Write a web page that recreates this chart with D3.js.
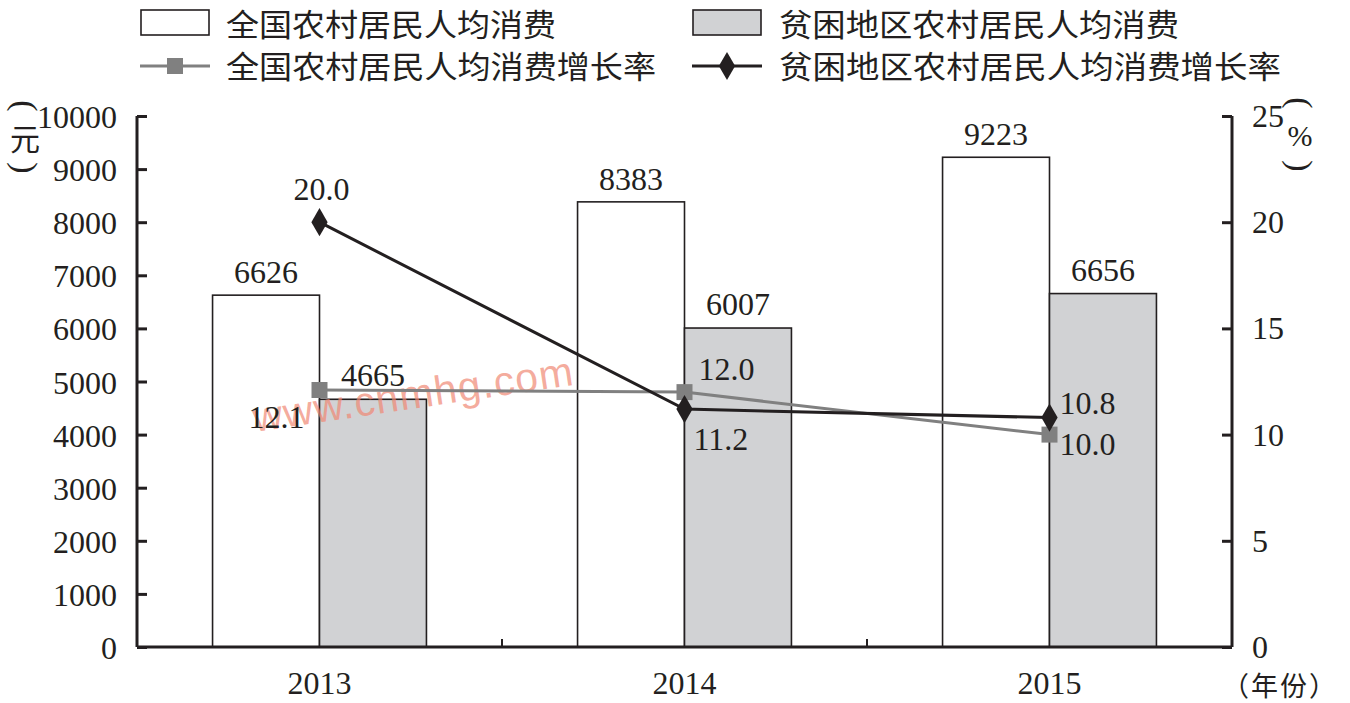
<!DOCTYPE html>
<html><head><meta charset="utf-8">
<script src="https://cdn.jsdelivr.net/npm/d3@7"></script>
<style>
body{margin:0;background:#fff;}
text{fill:#231f20;}
</style></head>
<body>
<svg id="chart" width="1350" height="703"></svg>
<script>
const years = ["2013", "2014", "2015"];
const nationalConsumption = [6626, 8383, 9223];
const poorConsumption = [4665, 6007, 6656];
const nationalGrowth = [12.1, 12.0, 10.0];
const poorGrowth = [20.0, 11.2, 10.8];
const leftTicks = [0,1000,2000,3000,4000,5000,6000,7000,8000,9000,10000];
const rightTicks = [0,5,10,15,20,25];
const seriesNames = ["全国农村居民人均消费","贫困地区农村居民人均消费","全国农村居民人均消费增长率","贫困地区农村居民人均消费增长率"];

const ink = "#231f20", barGray = "#d1d2d4", lineGray = "#808080";
const numFont = "'Liberation Serif','Times New Roman','DejaVu Serif',serif";
const cjkFont = "'Noto Sans CJK SC','Noto Sans',sans-serif";

const svg = d3.select("#chart");
const L = 137, R = 1232, T = 116, B = 647;

const x = d3.scaleBand().domain(years).range([L, R]);
const yL = d3.scaleLinear().domain([0, 10000]).range([B, T]);
const yR = d3.scaleLinear().domain([0, 25]).range([B, T]);
const barW = x.bandwidth() * 0.293;
const cx = d => x(d) + x.bandwidth() / 2;

// bars
const g = svg.append("g");
g.selectAll(".bn").data(years).join("rect")
  .attr("x", d => cx(d) - barW).attr("width", barW)
  .attr("y", (d,i) => yL(nationalConsumption[i]))
  .attr("height", (d,i) => B - yL(nationalConsumption[i]))
  .attr("fill", "#fff").attr("stroke", ink).attr("stroke-width", 1.6);
g.selectAll(".bp").data(years).join("rect")
  .attr("x", d => cx(d)).attr("width", barW)
  .attr("y", (d,i) => yL(poorConsumption[i]))
  .attr("height", (d,i) => B - yL(poorConsumption[i]))
  .attr("fill", barGray).attr("stroke", ink).attr("stroke-width", 1.6);

// bar labels
g.selectAll(".ln").data(years).join("text")
  .attr("x", d => cx(d) - barW/2).attr("y", (d,i) => yL(nationalConsumption[i]) - 12)
  .attr("text-anchor", "middle").attr("font-family", numFont).attr("font-size", 32)
  .text((d,i) => nationalConsumption[i]);
g.selectAll(".lp").data(years).join("text")
  .attr("x", d => cx(d) + barW/2).attr("y", (d,i) => yL(poorConsumption[i]) - 13)
  .attr("text-anchor", "middle").attr("font-family", numFont).attr("font-size", 32)
  .text((d,i) => poorConsumption[i]);

// watermark
svg.append("text").attr("transform", "translate(255,432) rotate(-8.4)")
  .attr("font-family", "'Liberation Sans',Arial,sans-serif").attr("font-size", 41)
  .attr("textLength", 323).attr("lengthAdjust", "spacing")
  .style("fill", "rgba(240,135,115,0.7)").text("www.cnmhg.com");

// axes
const axL = d3.axisLeft(yL).tickValues(leftTicks).tickSize(-10).tickPadding(20).tickFormat(d => d);
const axR = d3.axisRight(yR).tickValues(rightTicks).tickSize(-10).tickPadding(20);
const axB = d3.axisBottom(x).tickSize(0).tickPadding(24);

function styleAxis(sel){
  sel.attr("font-family", numFont);
  sel.select(".domain").attr("stroke", ink).attr("stroke-width", 3);
  sel.selectAll(".tick line").attr("stroke", ink).attr("stroke-width", 3);
  sel.selectAll("text").attr("font-family", numFont).attr("font-size", 32).style("fill", ink);
}
const gl = svg.append("g").attr("transform", `translate(${L},0)`).call(axL);
gl.select(".domain").attr("d", `M0,${T}V${B}`);
styleAxis(gl);
gl.selectAll("text").attr("dy", "0.36em");
const gr = svg.append("g").attr("transform", `translate(${R},0)`).call(axR);
gr.select(".domain").attr("d", `M0,${T}V${B}`);
styleAxis(gr);
gr.selectAll("text").attr("dy", "0.33em");
const gb = svg.append("g").attr("transform", `translate(0,${B})`).call(axB);
gb.select(".domain").attr("d", `M${L},0H${R}`);
styleAxis(gb);
gb.selectAll("text").attr("dy", "0.71em");
// category separators
svg.append("g").selectAll("line").data(years.slice(1)).join("line")
  .attr("x1", d => x(d)).attr("x2", d => x(d)).attr("y1", B).attr("y2", B - 8)
  .attr("stroke", ink).attr("stroke-width", 2);

// lines
const lineGen = d3.line().x(d => cx(d[0])).y(d => yR(d[1]));
svg.append("path").datum(years.map((d,i) => [d, nationalGrowth[i]]))
  .attr("d", lineGen).attr("fill", "none").attr("stroke", lineGray).attr("stroke-width", 3);
svg.append("path").datum(years.map((d,i) => [d, poorGrowth[i]]))
  .attr("d", lineGen).attr("fill", "none").attr("stroke", ink).attr("stroke-width", 3);

const sq = d3.symbol().type(d3.symbolSquare).size(256);
const dm = d3.symbol().type(d3.symbolDiamond).size(230);
svg.append("g").selectAll("path").data(years).join("path")
  .attr("transform", (d,i) => `translate(${cx(d)},${yR(nationalGrowth[i])})`)
  .attr("d", sq).attr("fill", lineGray);
svg.append("g").selectAll("path").data(years).join("path")
  .attr("transform", (d,i) => `translate(${cx(d)},${yR(poorGrowth[i])})`)
  .attr("d", dm).attr("fill", ink);

// line labels
const natOff = [[-15, 38, "end"], [14, -12, "start"], [10, 20, "start"]];
const poorOff = [[2, -22, "middle"], [9, 41, "start"], [10, -4, "start"]];
svg.append("g").selectAll("text").data(years).join("text")
  .attr("x", (d,i) => cx(d) + natOff[i][0]).attr("y", (d,i) => yR(nationalGrowth[i]) + natOff[i][1])
  .attr("text-anchor", (d,i) => natOff[i][2]).attr("font-family", numFont).attr("font-size", 32)
  .text((d,i) => nationalGrowth[i].toFixed(1));
svg.append("g").selectAll("text").data(years).join("text")
  .attr("x", (d,i) => cx(d) + poorOff[i][0]).attr("y", (d,i) => yR(poorGrowth[i]) + poorOff[i][1])
  .attr("text-anchor", (d,i) => poorOff[i][2]).attr("font-family", numFont).attr("font-size", 32)
  .text((d,i) => poorGrowth[i].toFixed(1));

// legend
const lg = svg.append("g");
lg.append("rect").attr("x", 141).attr("y", 10).attr("width", 68).attr("height", 25)
  .attr("fill", "#fff").attr("stroke", ink).attr("stroke-width", 1.6);
lg.append("rect").attr("x", 693).attr("y", 10).attr("width", 68).attr("height", 25)
  .attr("fill", barGray).attr("stroke", ink).attr("stroke-width", 1.6);
lg.append("line").attr("x1", 140).attr("x2", 210).attr("y1", 66).attr("y2", 66)
  .attr("stroke", lineGray).attr("stroke-width", 3);
lg.append("path").attr("transform", "translate(175,66)").attr("d", sq).attr("fill", lineGray);
lg.append("line").attr("x1", 692).attr("x2", 762).attr("y1", 66).attr("y2", 66)
  .attr("stroke", ink).attr("stroke-width", 3);
lg.append("path").attr("transform", "translate(727,66)").attr("d", dm).attr("fill", ink);
const legPos = [[226, 36, 330], [779, 36, 400], [226, 78, 430], [779, 78, 502]];
lg.selectAll("text").data(seriesNames).join("text")
  .attr("x", (d,i) => legPos[i][0]).attr("y", (d,i) => legPos[i][1])
  .attr("textLength", (d,i) => legPos[i][2]).attr("lengthAdjust", "spacingAndGlyphs")
  .attr("font-family", cjkFont).attr("font-size", 31).text(d => d);

// unit labels (stacked vertically, parentheses turned sideways)
function vUnit(xx, yTop, yMid, yBot, label, font) {
  const paren = (ch, yy) => svg.append("text")
    .attr("transform", `translate(${xx},${yy}) rotate(90)`)
    .attr("text-anchor", "middle").attr("dominant-baseline", "central")
    .attr("font-family", numFont).attr("font-size", 34).text(ch);
  paren("(", yTop);
  svg.append("text").attr("x", xx).attr("y", yMid)
    .attr("text-anchor", "middle").attr("dominant-baseline", "central")
    .attr("font-family", font).attr("font-size", 30).text(label);
  paren(")", yBot);
}
vUnit(25, 106, 137, 168, "元", cjkFont);
vUnit(1300, 103, 135, 166, "%", numFont);
svg.append("text").attr("x", 1222).attr("y", 696).attr("font-family", cjkFont)
  .attr("font-size", 27).style("letter-spacing", "2px").text("（年份）");
</script>
</body></html>
